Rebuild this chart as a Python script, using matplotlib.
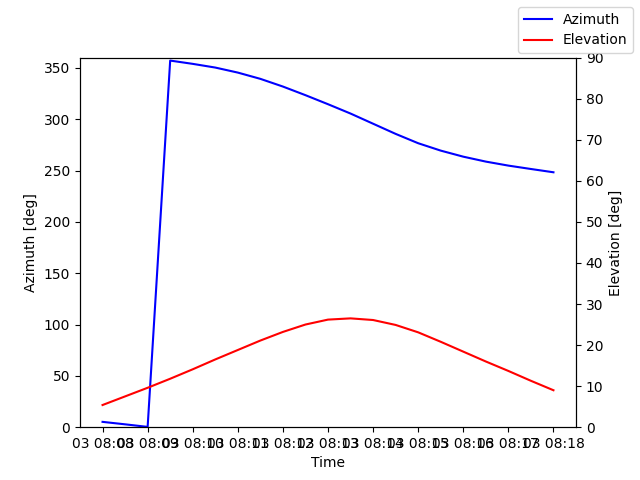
import numpy as np
import matplotlib
matplotlib.use("Agg")
import matplotlib.pyplot as plt
import matplotlib.dates as mdates

# samples every 30 s from 08:08 to 08:18
times = np.arange(np.datetime64("2024-03-03T08:08:00"),
                  np.datetime64("2024-03-03T08:18:01"),
                  np.timedelta64(30, "s")).astype("datetime64[s]").astype(object)

azimuth = [5.2, 2.8, 0.3, 357.1, 353.9, 350.3, 345.4, 339.3, 331.8, 323.4, 314.6,
           305.5, 295.6, 285.7, 276.6, 269.4, 263.5, 258.7, 254.8, 251.5, 248.3]
elevation = [5.4, 7.5, 9.6, 11.8, 14.1, 16.5, 18.8, 21.1, 23.2, 25.0, 26.2,
             26.5, 26.1, 24.9, 23.1, 20.8, 18.4, 16.0, 13.7, 11.3, 9.0]

fig, ax = plt.subplots(figsize=(6.4, 4.8), dpi=100)
ax.plot(times, azimuth, color="blue", label="Azimuth")
ax.set_ylim(0, 360)
ax.set_ylabel("Azimuth [deg]")
ax.set_xlabel("Time")
ax.xaxis.set_major_locator(mdates.MinuteLocator(interval=1))
ax.xaxis.set_major_formatter(mdates.DateFormatter("%d %H:%M"))

ax2 = ax.twinx()
ax2.plot(times, elevation, color="red", label="Elevation")
ax2.set_ylim(0, 90)
ax2.set_ylabel("Elevation [deg]")

fig.legend(loc="upper right")
fig.savefig("out.png")
